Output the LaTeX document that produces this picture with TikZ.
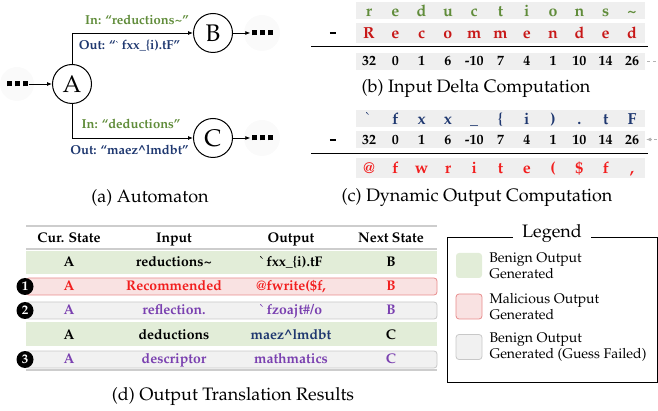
\documentclass[tikz,border=0pt]{standalone}
\usepackage[T1]{fontenc}
\usepackage{mathpazo}
\usepackage{xcolor}
\usetikzlibrary{arrows.meta, positioning}

\definecolor{inGreen}{RGB}{96,140,58}
\definecolor{outBlue}{RGB}{31,56,112}
\definecolor{deepRed}{RGB}{200,24,24}
\definecolor{hotRed}{RGB}{242,30,30}
\definecolor{guessPurple}{RGB}{122,64,176}
\definecolor{stripGray}{RGB}{239,239,239}
\definecolor{benignFill}{RGB}{226,237,216}
\definecolor{malFill}{RGB}{249,226,226}
\definecolor{malLine}{RGB}{232,140,140}
\definecolor{failFill}{RGB}{241,241,241}
\definecolor{failLine}{RGB}{200,200,200}
\definecolor{ruleGray}{RGB}{205,205,205}

\newcommand{\fs}[1]{\fontsize{#1}{#1}\selectfont}
\newcommand{\sqdots}{\rule{5pt}{5pt}\hspace{3pt}\rule{5pt}{5pt}\hspace{3pt}\rule{5pt}{5pt}}

\begin{document}
\begin{tikzpicture}[x=1pt, y=-1pt, >={Latex[length=5pt,width=4pt]}, every node/.style={inner sep=0pt},
    state/.style={circle, draw, line width=1pt, minimum size=39pt, font=\fs{24}},
    dots/.style={inner sep=1pt},
    halo/.style={fill=black!2},
    inlbl/.style={anchor=base, font=\fs{13}\bfseries, text=inGreen},
    outlbl/.style={anchor=base, font=\fs{13}\bfseries, text=outBlue},
    caption/.style={anchor=base, font=\fs{18}},
    strip/.style={fill=stripGray, minimum width=289pt, minimum height=17pt},
    glyph/.style={anchor=base, font=\fs{16}\bfseries},
    num/.style={anchor=base, font=\fs{14}\bfseries},
    minus/.style={inner sep=0pt},
    sumrule/.style={line width=1pt},
    link/.style={->, dashed, black!30, line width=0.6pt, shorten <=2pt, shorten >=1pt},
    cell/.style={anchor=base, font=\fs{14}\bfseries},
    tabrule/.style={ruleGray, line width=1.2pt},
    benign/.style={fill=benignFill, minimum width=411pt, minimum height=23pt},
    malicious/.style={fill=malFill, draw=malLine, line width=0.8pt, rounded corners=3pt, minimum width=411pt, minimum height=17pt},
    failed/.style={fill=failFill, draw=failLine, line width=0.8pt, rounded corners=3pt, minimum width=411pt, minimum height=17pt},
    badge/.style={circle, fill=black, text=white, minimum size=17pt, font=\fs{13}\bfseries},
    swatch/.style={minimum width=26pt, minimum height=25pt, rounded corners=3pt},
    legtext/.style={anchor=west, align=left, font=\fontsize{14}{16}\selectfont}]

    \useasboundingbox (0,0) rectangle (658,411);

    % automaton
    \fill[halo] (17,84) circle (17pt);
    \fill[halo] (262,33) circle (18pt);
    \fill[halo] (262,138) circle (18pt);
    \node[dots] (moreA) at (17,84) {\sqdots};
    \node[state] (A) at (72,84) {A};
    \node[state] (B) at (213,33) {B};
    \node[state] (C) at (213,138) {C};
    \node[dots] (moreB) at (262,33) {\sqdots};
    \node[dots] (moreC) at (262,138) {\sqdots};

    \draw[->, line width=0.8pt] (moreA) -- (A);
    \draw[->, line width=0.8pt] (A.north) |- (B);
    \draw[->, line width=0.8pt] (A.south) |- (C);
    \draw[->, line width=0.8pt] (B) -- (moreB);
    \draw[->, line width=0.8pt] (C) -- (moreC);

    \node[inlbl] (inB) at (137,25) {In: ``reductions\textasciitilde''};
    \node[outlbl] (outB) at (129.5,50) {Out: ``\textasciigrave fxx\_\{i).tF''};
    \node[inlbl] (inC) at (131,129) {In: ``deductions''};
    \node[outlbl] (outC) at (129.5,155) {Out: ``maez\textasciicircum lmdbt''};
    \node[caption] (capA) at (150,203) {(a) Automaton};

    % input delta
    \node[strip] (stripIn) at (500.5,11) {};
    \node[strip, minimum height=20pt] (stripRef) at (500.5,33) {};
    \node[strip] (numB) at (500.5,61.5) {};
    \foreach \c [count=\i from 0] in {r,e,d,u,c,t,i,o,n,s,\textasciitilde}
        \node[glyph, text=inGreen] (inch\i) at (369+26.3*\i,17) {\c};
    \foreach \c [count=\i from 0] in {R,e,c,o,m,m,e,n,d,e,d}
        \node[glyph, text=deepRed] (refch\i) at (369+26.3*\i,39) {\c};
    \foreach \d [count=\i from 0] in {32,0,1,6,-10,7,4,1,10,14,26}
        \node[num] (dB\i) at (369+26.3*\i,66) {\d};
    \node[minus] (subB) at (333,33) {\rule{6.5pt}{2.8pt}};
    \draw[sumrule] (311,47) -- (648,47);
    \node[caption] (capB) at (476,93) {(b) Input Delta Computation};

    % output computation
    \node[strip] (stripOut) at (500.5,118.5) {};
    \node[strip] (numC) at (500.5,139.5) {};
    \node[strip, minimum height=20pt] (stripRes) at (500.5,168) {};
    \foreach \c [count=\i from 0] in {\textasciigrave,f,x,x,\_,\{,i,{)},{.},t,F}
        \node[glyph, text=outBlue] (outch\i) at (369+26.3*\i,125) {\c};
    \foreach \d [count=\i from 0] in {32,0,1,6,-10,7,4,1,10,14,26}
        \node[num] (dC\i) at (369+26.3*\i,145) {\d};
    \foreach \c [count=\i from 0] in {@,f,w,r,i,t,e,{(},\$,f,{,}}
        \node[glyph, text=hotRed] (resch\i) at (369+26.3*\i,174) {\c};
    \node[minus] (subC) at (333,140) {\rule{6.5pt}{2.8pt}};
    \draw[sumrule] (311,154) -- (648,154);
    \draw[link] (numB.east) -- ++(40,0) |- (numC.east);
    \node[caption] (capC) at (477,202) {(c) Dynamic Output Computation};

    % translation table
    \node[benign] (row1) at (231.5,262.5) {};
    \node[malicious] (row2) at (231.5,286.5) {};
    \node[failed] (row3) at (231.5,310.5) {};
    \node[benign] (row4) at (231.5,334) {};
    \node[failed] (row5) at (231.5,359.5) {};
    \draw[tabrule] (26,226) -- (437,226);
    \draw[tabrule] (26,249) -- (437,249);
    \draw[tabrule] (26,370) -- (437,370);

    \node[cell] (hd1) at (69,243) {Cur. State};
    \node[cell] (hd2) at (174,243) {Input};
    \node[cell] (hd3) at (291,243) {Output};
    \node[cell] (hd4) at (391,243) {Next State};

    \node[cell] (st1) at (69,267) {A};
    \node[cell] (in1) at (174,267) {reductions\textasciitilde};
    \node[cell] (out1) at (291,267) {\textasciigrave fxx\_\{i).tF};
    \node[cell] (nx1) at (391,267) {B};

    \node[cell, text=hotRed] (st2) at (69,291) {A};
    \node[cell, text=hotRed] (in2) at (174,291) {Recommended};
    \node[cell, text=hotRed] (out2) at (291,291) {@fwrite(\$f,};
    \node[cell, text=hotRed] (nx2) at (391,291) {B};

    \node[cell, text=guessPurple] (st3) at (69,315) {A};
    \node[cell, text=guessPurple] (in3) at (174,315) {reflection.};
    \node[cell, text=guessPurple] (out3) at (291,315) {\textasciigrave fzoajt\#/o};
    \node[cell, text=guessPurple] (nx3) at (391,315) {B};

    \node[cell] (st4) at (69,339) {A};
    \node[cell] (in4) at (174,339) {deductions};
    \node[cell, text=outBlue] (out4) at (291,339) {maez\textasciicircum lmdbt};
    \node[cell] (nx4) at (391,339) {C};

    \node[cell, text=guessPurple] (st5) at (69,363) {A};
    \node[cell, text=guessPurple] (in5) at (174,363) {descriptor};
    \node[cell, text=guessPurple] (out5) at (291,363) {mathmatics};
    \node[cell, text=guessPurple] (nx5) at (391,363) {C};

    \node[badge] (mark1) at (25,286.5) {1};
    \node[badge] (mark2) at (25,310.5) {2};
    \node[badge] (mark3) at (25,359.5) {3};
    \node[caption] (capD) at (233,400) {(d) Output Translation Results};

    % legend
    \node[draw, line width=0.8pt, minimum width=210pt, minimum height=145pt] (legend) at (552,309.5) {};
    \node[anchor=base, fill=white, inner xsep=9pt, inner ysep=1pt, font=\fs{18}] (legT) at (552,238) {Legend};
    \node[swatch, fill=benignFill] (swG) at (469,265.5) {};
    \node[swatch, fill=malFill, draw=malLine, line width=0.8pt] (swR) at (469,306.5) {};
    \node[swatch, fill=failFill, draw=failLine, line width=0.8pt] (swF) at (469,347) {};
    \node[legtext, right=7pt of swG] (txG) {Benign Output\\Generated};
    \node[legtext, right=7pt of swR] (txR) {Malicious Output\\Generated};
    \node[legtext, right=7pt of swF] (txF) {Benign Output\\Generated (Guess Failed)};
\end{tikzpicture}
\end{document}
